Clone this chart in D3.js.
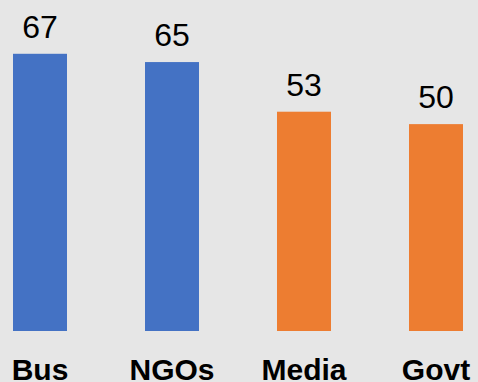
<!DOCTYPE html>
<html>
<head>
<meta charset="utf-8">
<script src="https://cdn.jsdelivr.net/npm/d3@7"></script>
<style>
html,body{margin:0;padding:0;background:#e6e6e6;}
svg{display:block;}
</style>
</head>
<body>
<script>
const categories = ["Bus", "NGOs", "Media", "Govt"];
const values = [67, 65, 53, 50];
const groups = ["g1", "g1", "g2", "g2"];

const W = 478, H = 382;
const svg = d3.select("body").append("svg").attr("width", W).attr("height", H);
svg.append("rect").attr("width", W).attr("height", H).attr("fill", "#e6e6e6");

const x = d3.scaleBand().domain(categories).range([-26, 502]).paddingInner(0.591).paddingOuter(0.2955);
const y = d3.scaleLinear().domain([0, 80]).range([331, 0]);
const color = d3.scaleOrdinal().domain(["g1", "g2"]).range(["#4472C4", "#ED7D31"]);

const data = categories.map((c, i) => ({c, v: values[i], g: groups[i]}));

svg.selectAll("rect.bar").data(data).enter().append("rect")
  .attr("class", "bar")
  .attr("x", d => x(d.c))
  .attr("y", d => y(d.v))
  .attr("width", x.bandwidth())
  .attr("height", d => y(0) - y(d.v))
  .attr("fill", d => color(d.g));

svg.selectAll("text.val").data(data).enter().append("text")
  .attr("class", "val")
  .attr("x", d => x(d.c) + x.bandwidth() / 2)
  .attr("y", d => y(d.v) - 16)
  .attr("text-anchor", "middle")
  .attr("font-family", "'Liberation Sans', Arial, sans-serif")
  .attr("font-size", 32)
  .attr("fill", "#000")
  .text(d => d.v);

const xAxis = d3.axisBottom(x).tickSize(0).tickPadding(0);
const gx = svg.append("g").attr("transform", "translate(0,331)").call(xAxis);
gx.select(".domain").remove();
gx.selectAll("text")
  .attr("dy", null)
  .attr("y", 49)
  .attr("font-family", "'Liberation Sans', Arial, sans-serif")
  .attr("font-weight", "bold")
  .attr("font-size", 30)
  .attr("fill", "#000");
</script>
</body>
</html>
